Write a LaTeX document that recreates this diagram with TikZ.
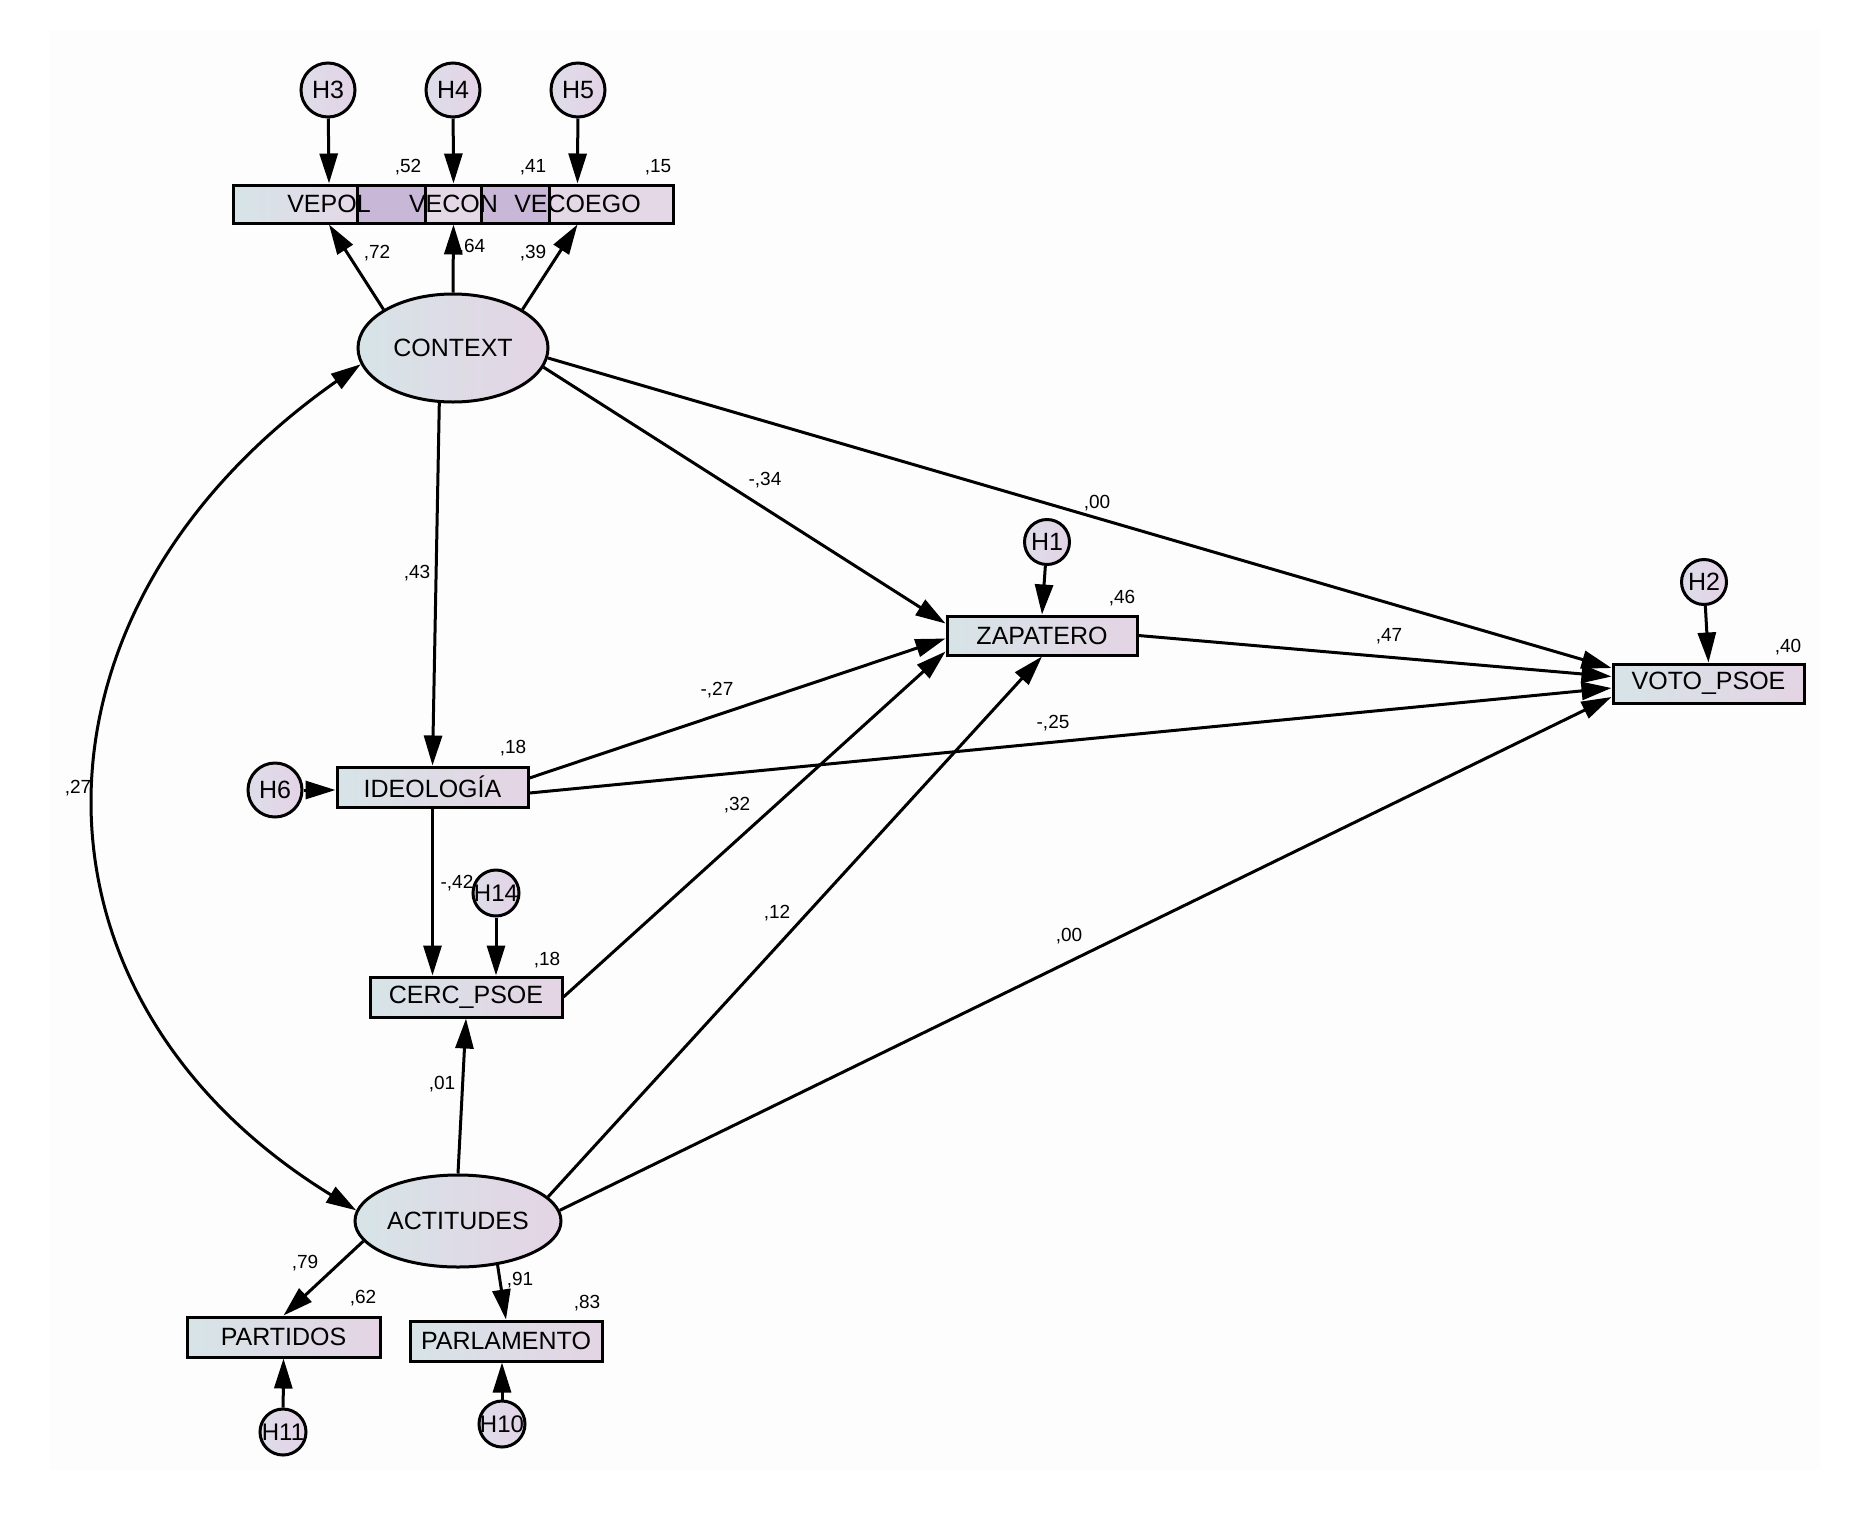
\documentclass[tikz,border=0pt]{standalone}
\usepackage{fontspec}
\setmainfont{Liberation Sans}
\usetikzlibrary{arrows.meta,shapes.geometric,calc}
\definecolor{boxL}{HTML}{D6E4E7}
\definecolor{boxR}{HTML}{E4D4E4}
\definecolor{ovl}{HTML}{C8B7D6}
\definecolor{lightp}{HTML}{E4D8E7}
\definecolor{errL}{HTML}{DEDDE9}
\definecolor{errR}{HTML}{E3D3E6}
\definecolor{bg}{HTML}{FDFDFD}
\begin{document}
\begin{tikzpicture}[x=1pt,y=-1pt,
  obs/.style={draw, line width=3pt, rectangle, minimum width=191pt, minimum height=39pt, inner sep=0pt, left color=boxL, right color=boxR, font=\fontsize{25}{28}\selectfont},
  topbox/.style={draw, line width=3pt, rectangle, minimum width=192pt, minimum height=38pt, inner sep=0pt, font=\fontsize{25}{28}\selectfont},
  lat/.style={draw, line width=3pt, ellipse, inner sep=0pt, left color=boxL, right color=boxR, font=\fontsize{25}{28}\selectfont},
  err/.style={draw, line width=3pt, circle, inner sep=-8pt, left color=errL, right color=errR, font=\fontsize{25}{28}\selectfont},
  coef/.style={inner sep=0pt, font=\fontsize{19}{22}\selectfont},
  arr/.style={line width=3pt, -{Triangle[length=30pt,width=18pt]}},
  darr/.style={line width=3pt, {Triangle[length=30pt,width=18pt]}-{Triangle[length=30pt,width=18pt]}},
]
\fill[white] (0,0) rectangle (1864,1516);
\fill[bg] (50,30) rectangle (1820,1470);
\useasboundingbox (0,0) rectangle (1864,1516);

% top indicator bar backgrounds
\shade[left color=boxL, right color=lightp] (233,185) rectangle (358,223);
\fill[ovl] (358,185) rectangle (425,223);
\fill[lightp] (425,185) rectangle (482,223);
\fill[ovl] (482,185) rectangle (549,223);
\fill[lightp] (549,185) rectangle (673,223);

% coefficient labels
\node[coef] (c52) at (408,167) {,52};
\node[coef] (c41) at (533,167) {,41};
\node[coef] (c15) at (658,167) {,15};
\node[coef] (c72) at (377,253) {,72};
\node[coef] (c64) at (472,247) {,64};
\node[coef] (c39) at (533,253) {,39};
\node[coef] (c18a) at (513,748) {,18};
\node[coef] (c42) at (457,883) {-,42};
\node[coef] (c18b) at (547,960) {,18};
\node[coef] (c01) at (442,1084) {,01};
\node[coef] (c79) at (305,1263) {,79};
\node[coef] (c62) at (363,1298) {,62};
\node[coef] (c91) at (520,1280) {,91};
\node[coef] (c83) at (587,1303) {,83};
\node[coef] (c27) at (78,788) {,27};
\node[coef] (c43) at (417,573) {,43};
\node[coef] (c34) at (765,480) {-,34};
\node[coef] (c00a) at (1097,503) {,00};
\node[coef] (c46) at (1122,598) {,46};
\node[coef] (c27b) at (717,690) {-,27};
\node[coef] (c25) at (1053,723) {-,25};
\node[coef] (c47) at (1389,636) {,47};
\node[coef] (c40) at (1788,647) {,40};
\node[coef] (c32) at (737,805) {,32};
\node[coef] (c12) at (777,913) {,12};
\node[coef] (c00b) at (1069,936) {,00};

% nodes
\node[topbox] (vepol) at (329,204) {VEPOL};
\node[topbox] (vecon) at (453.5,204) {VECON};
\node[topbox] (vecoego) at (577.5,204) {VECOEGO};

\node[err, minimum size=54pt] (h3) at (328,90) {H3};
\node[err, minimum size=54pt] (h4) at (453,90) {H4};
\node[err, minimum size=54pt] (h5) at (578,90) {H5};

\node[lat, minimum width=190pt, minimum height=108pt] (ctx) at (453,348) {CONTEXT};
\node[lat, minimum width=206pt, minimum height=92pt] (act) at (458,1221) {ACTITUDES};

\node[obs, minimum height=40pt] (ideo) at (432.5,787) {IDEOLOGÍA};
\node[err, minimum size=54pt] (h6) at (275,790) {H6};
\node[obs, minimum width=192pt, minimum height=40pt] (cerc) at (466,997) {CERC\_PSOE};
\node[err, minimum size=46pt, font=\fontsize{24}{28}\selectfont] (h14) at (496,893) {H14};
\node[obs, minimum width=190pt] (zap) at (1042,635.5) {ZAPATERO};
\node[err, minimum size=45pt] (h1) at (1047,542) {H1};
\node[obs] (vot) at (1708.5,683.5) {VOTO\_PSOE};
\node[err, minimum size=45pt] (h2) at (1704,582) {H2};
\node[obs, minimum width=193pt, minimum height=40pt] (part) at (283.5,1337) {PARTIDOS};
\node[obs, minimum width=192pt, minimum height=40pt] (parl) at (506,1341) {PARLAMENTO};
\node[err, minimum size=46pt, font=\fontsize{24}{28}\selectfont] (h11) at (283,1432) {H11};
\node[err, minimum size=46pt, font=\fontsize{24}{28}\selectfont] (h10) at (502,1424) {H10};

% connectors
\draw[arr] (h3) -- (vepol.north);
\draw[arr] (h4) -- (vecon.north);
\draw[arr] (h5) -- (vecoego.north);
\draw[arr] (ctx.151) -- (vepol.south);
\draw[arr] (ctx.north) -- (vecon.south);
\draw[arr] (ctx.29) -- (vecoego.south);
\draw[arr] (ctx.256) -- (ideo.north);
\draw[arr] (ctx.348) -- ($(zap.west)+(0,-12)$);
\draw[arr] (ctx.354) -- ($(vot.west)+(0,-15.5)$);
\draw[arr] (zap.east) -- ($(vot.west)+(0,-7)$);
\draw[arr] ($(ideo.east)+(0,-9)$) -- ($(zap.west)+(0,3)$);
\draw[arr] ($(ideo.east)+(0,6)$) -- ($(vot.west)+(0,4.5)$);
\draw[arr] (ideo.south) -- (ideo.south |- cerc.north);
\draw[arr] (h14) -- (h14.south |- cerc.north);
\draw[arr] (h6.east) -- (h6.east -| ideo.west);
\draw[arr] (cerc.east) -- ($(zap.west)+(0,16)$);
\draw[arr] (act.north) -- (cerc.south);
\draw[arr] (act.15) -- (zap.south);
\draw[arr] (act.6) -- ($(vot.west)+(0,13.5)$);
\draw[arr] (act.192) -- (part.north);
\draw[arr] (act.312) -- (parl.north);
\draw[arr] (h11) -- (part.south);
\draw[arr] (h10) -- (h10.north |- parl.south);
\draw[arr] (h1) -- (zap.north);
\draw[arr] (h2) -- (vot.north);
\draw[darr] (act.174) .. controls (10,998) and (10,610) .. (ctx.190);
\end{tikzpicture}
\end{document}
